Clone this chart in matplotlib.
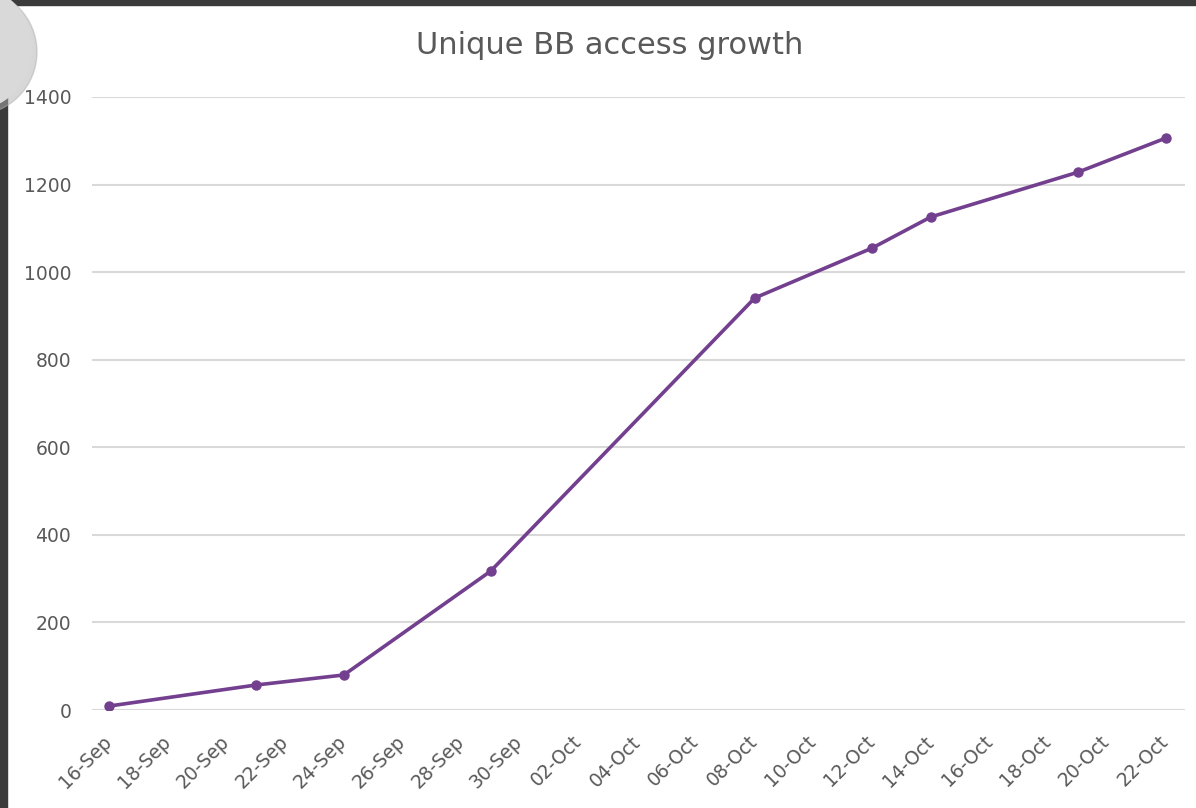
import matplotlib.pyplot as plt
import matplotlib.dates as mdates
import matplotlib.patches as mpatches
import matplotlib.transforms as mtransforms
import numpy as np
import datetime as dt

# values
dates = ['2015-09-16', '2015-09-21', '2015-09-24', '2015-09-29', '2015-10-08',
         '2015-10-12', '2015-10-14', '2015-10-19', '2015-10-22']
users = [9, 57, 80, 317, 941, 1055, 1126, 1228, 1306]

x = [dt.datetime.strptime(d, '%Y-%m-%d') for d in dates]

plt.rcParams['font.family'] = ['DejaVu Sans']

W, H = 1196, 808
fig = plt.figure(figsize=(W / 100, H / 100), dpi=100)
ax = fig.add_axes([92 / W, 1 - 710 / H, (1185 - 92) / W, (710 - 97) / H])

ax.plot(x, users, color='#733f8f', linewidth=2.6, marker='o', markersize=6.5, zorder=3)

start = dt.datetime(2015, 9, 16)
ax.set_xlim(start - dt.timedelta(days=0.58), start + dt.timedelta(days=36.66))
ax.set_ylim(0, 1400)
ax.set_yticks(np.arange(0, 1401, 200))
ticks = [start + dt.timedelta(days=2 * i) for i in range(19)]
ax.set_xticks(ticks)
ax.xaxis.set_major_formatter(mdates.DateFormatter('%d-%b'))

ax.grid(axis='y', color='#d9d9d9', linewidth=1.5)
ax.set_axisbelow(True)
for s in ax.spines.values():
    s.set_visible(False)
ax.tick_params(length=0, colors='#595959', labelsize=13.5)
ax.tick_params(axis='y', pad=15)
ax.tick_params(axis='x', pad=16)
shift = mtransforms.ScaledTranslation(-5 / 72, 0, fig.dpi_scale_trans)
for lab in ax.get_xticklabels():
    lab.set_rotation(45)
    lab.set_ha('right')
    lab.set_rotation_mode('anchor')
    lab.set_transform(lab.get_transform() + shift)

fig.text(610 / W, 1 - 45 / H, 'Unique BB access growth', ha='center', va='center',
         fontsize=22, color='#595959')

# screenshot frame and round button in the corner
fig.patches.append(mpatches.Rectangle((0, 1 - 5 / H), 1, 5 / H, transform=fig.transFigure,
                                      color='#3b3b3b', zorder=10))
fig.patches.append(mpatches.Rectangle((0, 0), 7 / W, 1, transform=fig.transFigure,
                                      color='#3b3b3b', zorder=10))
fig.patches.append(mpatches.Ellipse((-26 / W, 1 - 52 / H), 2 * 63 / W, 2 * 63 / H,
                                    transform=fig.transFigure, color='#b0b0b0',
                                    alpha=0.5, zorder=11))
fig.patches.append(mpatches.Ellipse((-30 / W, 1 - 48 / H), 2 * 63 / W, 2 * 63 / H,
                                    transform=fig.transFigure, facecolor='#d9d9d9',
                                    edgecolor='none', zorder=12))

plt.savefig('out.png', dpi=100)
